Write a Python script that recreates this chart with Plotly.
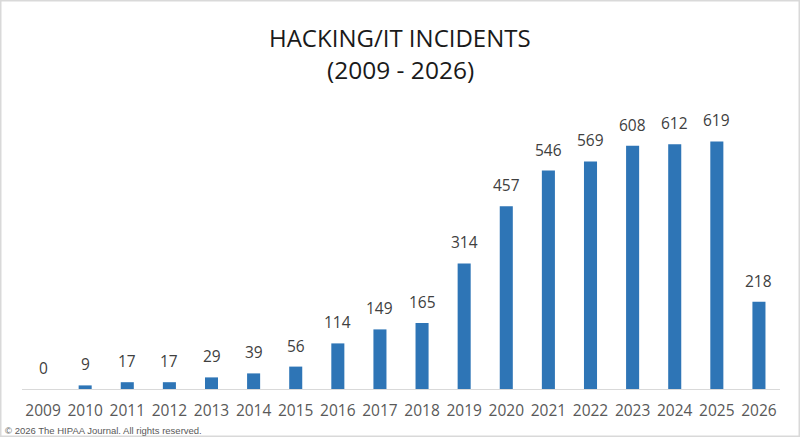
import plotly.graph_objects as go

years = [str(y) for y in range(2009, 2027)]
incidents = [0, 9, 17, 17, 29, 39, 56, 114, 149, 165, 314, 457, 546, 569, 608, 612, 619, 218]

W, H = 800, 437
ml, mr, mt, mb = 22, 20, 100, 48
pw, ph = W - ml - mr, H - mt - mb


def py(pix_y):
    """convert page pixel y to paper y"""
    return (H - mb - pix_y) / ph


def px(pix_x):
    return (pix_x - ml) / pw


fig = go.Figure()
fig.add_trace(go.Bar(
    x=list(range(len(years))), y=incidents, width=0.31,
    marker=dict(color="#2e75b6", line=dict(width=0)),
    hovertext=years, hoverinfo="text+y",
))

for i, v in enumerate(incidents):
    fig.add_annotation(x=i, y=v, text=str(v), showarrow=False,
                       yanchor="bottom", yshift=8,
                       font=dict(family="Open Sans", size=15.5, color="#404040"))

# title lines
fig.add_annotation(xref="paper", yref="paper", x=px(400), y=py(37), text="HACKING/IT INCIDENTS",
                   showarrow=False, xanchor="center", yanchor="middle",
                   font=dict(family="Open Sans", size=24, color="#1a1a1a"))
fig.add_annotation(xref="paper", yref="paper", x=px(400), y=py(70), text="(2009 - 2026)",
                   showarrow=False, xanchor="center", yanchor="middle",
                   font=dict(family="Open Sans", size=24.5, color="#1a1a1a"))

# copyright
fig.add_annotation(xref="paper", yref="paper", x=px(3), y=py(430),
                   xanchor="left", yanchor="middle", showarrow=False,
                   text="© 2026 The HIPAA Journal. All rights reserved.",
                   font=dict(family="Liberation Sans", size=9.5, color="#595959"))

# outer border
fig.add_shape(type="rect", xref="paper", yref="paper",
              x0=px(0.75), x1=px(W - 0.75), y0=py(H - 0.75), y1=py(0.75),
              line=dict(color="#d9d9d9", width=1.5), layer="below")

fig.update_layout(
    width=W, height=H,
    margin=dict(l=ml, r=mr, t=mt, b=mb),
    paper_bgcolor="white", plot_bgcolor="white",
    xaxis=dict(range=[-0.5, len(years) - 0.5], tickmode="array",
               tickvals=list(range(len(years))), ticktext=years,
               showline=True, linecolor="#d9d9d9", linewidth=1,
               showgrid=False, ticks="", zeroline=False, ticklabelstandoff=7,
               tickfont=dict(family="Open Sans", size=15.5, color="#595959")),
    yaxis=dict(range=[0, ph / 0.4], visible=False, showgrid=False, zeroline=False),
    showlegend=False,
)

fig.write_html("out.html")
